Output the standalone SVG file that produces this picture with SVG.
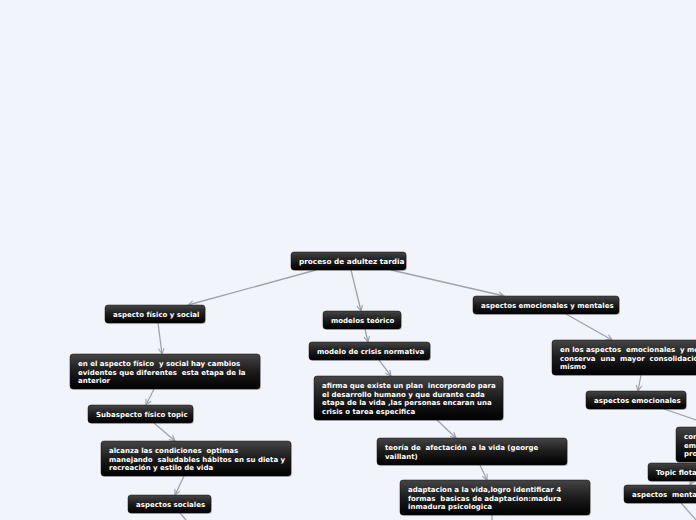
<svg xmlns="http://www.w3.org/2000/svg" width="696" height="520" viewBox="0 0 696 520">
<defs>
<linearGradient id="g" x1="0" y1="0" x2="0" y2="1">
<stop offset="0" stop-color="#454545"/>
<stop offset="0.5" stop-color="#1c1c1c"/>
<stop offset="1" stop-color="#000"/>
</linearGradient>
<marker id="a" viewBox="0 0 10 10" refX="9" refY="5" markerWidth="7" markerHeight="7" orient="auto" markerUnits="userSpaceOnUse">
<path d="M1,1 L9,5 L1,9" fill="none" stroke="#9ea3ab" stroke-width="1.6"/>
</marker>
</defs>
<style>
.n rect.b{fill:url(#g);stroke:#111;stroke-width:0.5}
.n rect.s{fill:#000;opacity:0.18}
.n text{font-family:"DejaVu Sans",Verdana,sans-serif;font-weight:bold;font-size:7px;fill:#fff;white-space:pre}
#n1 text{font-size:7.3px}
.c line{stroke:#9ea3ab;stroke-width:1.3;marker-end:url(#a)}
.c line.o{marker-end:none}
</style>
<rect width="696" height="520" fill="#f2f4fc"/>
<g class="c" id="connectors">
<line x1="316" y1="270" x2="188" y2="305"/>
<line x1="351" y1="270" x2="361" y2="311"/>
<line x1="391" y1="270" x2="504" y2="296"/>
<line x1="158" y1="323" x2="162" y2="354"/>
<line x1="154" y1="389" x2="146" y2="405"/>
<line x1="154" y1="423" x2="175" y2="441"/>
<line x1="184" y1="476" x2="175" y2="495"/>
<line class="o" x1="180" y1="513" x2="186" y2="520"/>
<line x1="365" y1="329" x2="368" y2="342"/>
<line x1="379" y1="360" x2="391" y2="376"/>
<line x1="437" y1="420" x2="456" y2="438"/>
<line x1="480" y1="465" x2="487" y2="480"/>
<line class="o" x1="492" y1="515" x2="492" y2="520"/>
<line x1="566" y1="314" x2="612" y2="340"/>
<line x1="641" y1="375" x2="638" y2="391"/>
<line class="o" x1="664" y1="409" x2="696" y2="420"/>
<line x1="692" y1="481" x2="690" y2="485"/>
<line class="o" x1="681" y1="503" x2="696" y2="520"/>
</g>
<g class="n" id="n1"><rect class="s" x="292" y="253" width="115" height="18" rx="3"/><rect class="b" x="291" y="252" width="115" height="18" rx="3"/><text x="299" y="264">proceso de adultez tardia</text></g>
<g class="n" id="n2"><rect class="s" x="106" y="306" width="100" height="18" rx="3"/><rect class="b" x="105" y="305" width="100" height="18" rx="3"/><text x="113" y="317">aspecto físico y social</text></g>
<g class="n" id="n3"><rect class="s" x="324" y="312" width="78" height="18" rx="3"/><rect class="b" x="323" y="311" width="78" height="18" rx="3"/><text x="331" y="323">modelos teórico</text></g>
<g class="n" id="n4"><rect class="s" x="474" y="297" width="146" height="18" rx="3"/><rect class="b" x="473" y="296" width="146" height="18" rx="3"/><text x="481" y="308">aspectos emocionales y mentales</text></g>
<g class="n" id="n5"><rect class="s" x="71" y="355" width="190" height="35" rx="3"/><rect class="b" x="70" y="354" width="190" height="35" rx="3"/><text x="78" y="366">en el aspecto físico  y social hay cambios</text><text x="78" y="374.5">evidentes que diferentes  esta etapa de la</text><text x="78" y="383">anterior</text></g>
<g class="n" id="n6"><rect class="s" x="89" y="406" width="105" height="18" rx="3"/><rect class="b" x="88" y="405" width="105" height="18" rx="3"/><text x="96" y="417">Subaspecto físico topic</text></g>
<g class="n" id="n7"><rect class="s" x="102" y="442" width="190" height="35" rx="3"/><rect class="b" x="101" y="441" width="190" height="35" rx="3"/><text x="109" y="453">alcanza las condiciones  optimas</text><text x="109" y="461.5">manejando  saludables hábitos en su dieta y</text><text x="109" y="470">recreación y estilo de vida</text></g>
<g class="n" id="n8"><rect class="s" x="129" y="496" width="83" height="18" rx="3"/><rect class="b" x="128" y="495" width="83" height="18" rx="3"/><text x="136" y="507">aspectos sociales</text></g>
<g class="n" id="n9"><rect class="s" x="310" y="343" width="121" height="18" rx="3"/><rect class="b" x="309" y="342" width="121" height="18" rx="3"/><text x="317" y="354">modelo de crisis normativa</text></g>
<g class="n" id="n10"><rect class="s" x="315" y="377" width="189" height="44" rx="3"/><rect class="b" x="314" y="376" width="189" height="44" rx="3"/><text x="322" y="388">afirma que existe un plan  incorporado para</text><text x="322" y="396.5">el desarrollo humano y que durante cada</text><text x="322" y="405">etapa de la vida ,las personas encaran una</text><text x="322" y="413.5">crisis o tarea especifica</text></g>
<g class="n" id="n11"><rect class="s" x="378" y="439" width="190" height="27" rx="3"/><rect class="b" x="377" y="438" width="190" height="27" rx="3"/><text x="385" y="450">teoría de  afectación  a la vida (george</text><text x="385" y="458.5">vaillant)</text></g>
<g class="n" id="n12"><rect class="s" x="401" y="481" width="190" height="35" rx="3"/><rect class="b" x="400" y="480" width="190" height="35" rx="3"/><text x="408" y="492">adaptacion a la vida,logro identificar 4</text><text x="408" y="500.5">formas  basicas de adaptacion:madura</text><text x="408" y="509">inmadura psicologica</text></g>
<g class="n" id="n13"><rect class="s" x="553" y="341" width="160" height="35" rx="3"/><rect class="b" x="552" y="340" width="160" height="35" rx="3"/><text x="560" y="352">en los aspectos  emocionales  y me</text><text x="560" y="360.5">conserva  una  mayor  consolidació</text><text x="560" y="369">mismo</text></g>
<g class="n" id="n14"><rect class="s" x="587" y="392" width="100" height="18" rx="3"/><rect class="b" x="586" y="391" width="100" height="18" rx="3"/><text x="594" y="403">aspectos emocionales</text></g>
<g class="n" id="n15"><rect class="s" x="677" y="428" width="40" height="35" rx="3"/><rect class="b" x="676" y="427" width="40" height="35" rx="3"/><text x="684" y="439">con</text><text x="684" y="447.5">em</text><text x="684" y="456">pro</text></g>
<g class="n" id="n16"><rect class="s" x="649" y="464" width="60" height="18" rx="3"/><rect class="b" x="648" y="463" width="60" height="18" rx="3"/><text x="656" y="475">Topic flota</text></g>
<g class="n" id="n17"><rect class="s" x="625" y="486" width="80" height="18" rx="3"/><rect class="b" x="624" y="485" width="80" height="18" rx="3"/><text x="632" y="497">aspectos  menta</text></g>
</svg>
